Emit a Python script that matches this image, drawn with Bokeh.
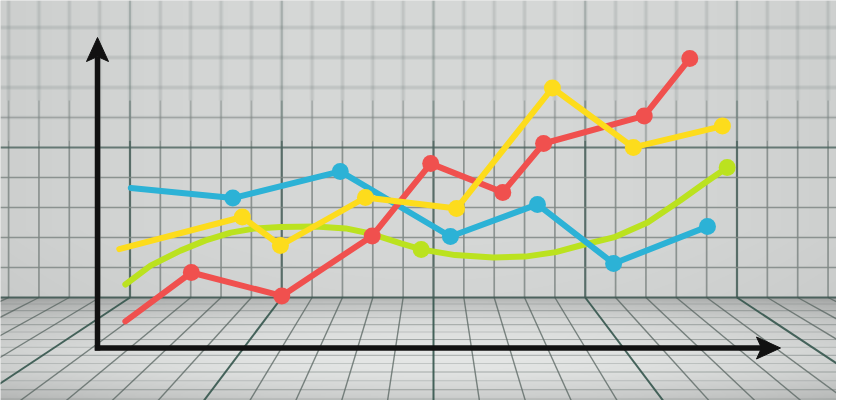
import numpy as np
from bokeh.plotting import figure
from bokeh.models import Range1d
from bokeh.embed import file_html
from bokeh.resources import INLINE

# ---------------- data (chart units: x 0-100 along axis, y 0-100 up the axis)
red_x = [4.1, 13.8, 27.1, 40.4, 49.0, 59.6, 65.6, 80.4, 87.1]
red_y = [8.7, 25.0, 17.2, 37.2, 61.3, 51.7, 68.0, 77.2, 96.3]

yellow_x = [3.2, 21.3, 26.9, 39.4, 52.8, 66.9, 78.8, 91.9]
yellow_y = [32.8, 43.5, 34.0, 50.0, 46.3, 86.5, 66.7, 73.8]

blue_x = [4.9, 19.9, 35.7, 51.9, 64.7, 75.9, 89.7]
blue_y = [53.2, 49.8, 58.7, 37.0, 47.7, 28.0, 40.3]

green_x = [4.1, 7.8, 12.2, 15.9, 19.6, 23.2, 26.9, 32.1, 36.5, 40.1, 44.6, 47.6,
           52.6, 58.2, 62.9, 67.4, 71.0, 75.9, 80.9, 85.7, 89.4, 92.6]
green_y = [21.0, 27.3, 32.3, 35.7, 38.3, 39.7, 40.2, 40.3, 39.7, 38.0, 34.7, 32.7,
           30.8, 30.0, 30.3, 31.8, 34.0, 36.7, 41.7, 49.0, 55.0, 60.0]
green_marker_x = [47.6, 92.6]
green_marker_y = [32.7, 60.0]

# ---------------- layout (scene geometry in screen pixels)
W, H = 836, 400
PX0, PY0 = 0, 0            # scene pixel at the figure's top-left corner
X0, SX = 97.0, 6.8         # axis origin x (px) / px per x unit
Y0, SY = 347.0, 3.0        # axis origin y (px) / px per y unit


def U(X):
    return (np.asarray(X, dtype=float) - X0) / SX


def V(Y):
    return (Y0 - np.asarray(Y, dtype=float)) / SY


p = figure(width=W, height=H,
           x_range=Range1d(float(U(PX0)), float(U(PX0 + W))),
           y_range=Range1d(float(V(PY0 + H)), float(V(PY0))),
           output_backend="svg", toolbar_location=None, min_border=0)
p.axis.visible = False
p.grid.visible = False
p.outline_line_color = None
p.background_fill_color = "#d6d6d6"
p.border_fill_color = "#d6d6d6"

# ---------------- background gradient (wall + floor)
FLOOR = 297.0
Xs = np.arange(PX0, PX0 + W) + 0.5
Ys = np.arange(PY0 + H, PY0, -1) - 0.5
XX, YY = np.meshgrid(Xs, Ys)
side = ((XX - 430.0) / 430.0) ** 2
wall = 216.0 - 9.0 * side - 4.0 * np.clip((YY - 230) / 67.0, 0, 1)
floor = np.interp(YY, [297, 302, 320, 350, 372, 395, 416],
                  [178, 194, 218, 232, 228, 208, 180]) - 22.0 * side
val = np.where(YY < FLOOR, wall, floor)
img = np.zeros((H, W), dtype=np.uint32)
view = img.view(dtype=np.uint8).reshape((H, W, 4))
view[..., 0] = np.clip(val - 2, 0, 255).astype(np.uint8)
view[..., 1] = np.clip(val, 0, 255).astype(np.uint8)
view[..., 2] = np.clip(val - 1, 0, 255).astype(np.uint8)
view[..., 3] = 255
p.image_rgba(image=[img], x=float(U(PX0)), y=float(V(PY0 + H)),
             dw=W / SX, dh=H / SY)

# ---------------- wall grid
CX, CELL = 433.0, 30.35
Z1, Z2 = 100.0, 140.0      # soft -> medium -> crisp (depth of field)
vx = [CX + CELL * m for m in range(-15, 14)]
thick_v = [CX + CELL * m for m in range(-15, 14) if m % 5 == 0]
thin_v = [x for x in vx if x not in thick_v]
hy = [FLOOR - 30.0 * n for n in range(1, 10)]
thick_h = [FLOOR - 150.0]
thin_h = [y for y in hy if y not in thick_h]


def vseg(xs, ya, yb, **kw):
    p.segment(x0=U(xs), y0=V([ya] * len(xs)), x1=U(xs), y1=V([yb] * len(xs)), **kw)


def hseg(ys, **kw):
    p.segment(x0=U([PX0] * len(ys)), y0=V(ys), x1=U([PX0 + W] * len(ys)), y1=V(ys), **kw)


soft_h = [y for y in hy if y < Z1]
mid_h = [y for y in thin_h if Z1 <= y < Z2]
crisp_h = [y for y in thin_h if y >= Z2]

# soft upper part
for w, a in [(5, 0.06), (2.5, 0.10)]:
    vseg(vx, PY0, Z1, line_color="#5d6663", line_width=w, line_alpha=a)
    hseg(soft_h, line_color="#5d6663", line_width=w, line_alpha=a)
vseg(thick_v, PY0, Z1, line_color="#4a625c", line_width=2.0, line_alpha=0.22)
# medium band
vseg(vx, Z1, Z2, line_color="#5d6663", line_width=3.5, line_alpha=0.08)
vseg(thin_v, Z1, Z2, line_color="#7f8785", line_width=1.7, line_alpha=0.5)
vseg(thick_v, Z1, Z2, line_color="#4a625c", line_width=2.1, line_alpha=0.55)
hseg(mid_h, line_color="#5d6663", line_width=3.5, line_alpha=0.08)
hseg(mid_h, line_color="#7f8785", line_width=1.7, line_alpha=0.55)
# crisp lower part
vseg(thin_v, Z2, FLOOR, line_color="#7f8785", line_width=1.7, line_alpha=0.85)
vseg(thick_v, Z2, FLOOR, line_color="#4a625c", line_width=2.2, line_alpha=0.9)
hseg(crisp_h, line_color="#7f8785", line_width=1.7, line_alpha=0.85)
hseg(thick_h, line_color="#4a625c", line_width=2.2, line_alpha=0.8)

# ---------------- floor grid
VP_Y = 96.0
BOT = 416.0
fy = []
y = FLOOR
while True:
    y = y + 6.5 + 0.03 * (y - FLOOR)
    if y > BOT:
        break
    fy.append(y)
hseg(fy, line_color="#6f7977", line_width=1.0,
     line_alpha=[0.55 if i % 2 else 0.3 for i in range(len(fy))])

fac = (BOT - VP_Y) / (FLOOR - VP_Y)
ft_top, ft_bot, fk_top, fk_bot = [], [], [], []
for m in range(-45, 46):
    xt = CX + CELL * m
    xb = CX + (xt - CX) * fac
    if max(xt, xb) < PX0 or min(xt, xb) > PX0 + W:
        continue
    if m % 5 == 0:
        fk_top.append(xt); fk_bot.append(xb)
    else:
        ft_top.append(xt); ft_bot.append(xb)
p.segment(x0=U(ft_top), y0=V([FLOOR] * len(ft_top)), x1=U(ft_bot), y1=V([BOT] * len(ft_bot)),
          line_color="#56635f", line_width=1.4, line_alpha=0.75)
p.segment(x0=U(fk_top), y0=V([FLOOR] * len(fk_top)), x1=U(fk_bot), y1=V([BOT] * len(fk_bot)),
          line_color="#34554c", line_width=2.0, line_alpha=0.9)
hseg([FLOOR], line_color="#3f5852", line_width=2.2, line_alpha=0.9)

# ---------------- axes arrows
AX = "#111111"
p.segment(x0=[float(U(97))], y0=[float(V(350))], x1=[float(U(97))], y1=[float(V(56))],
          line_color=AX, line_width=5.5)
p.patch(x=U([97, 86, 97, 108]), y=V([37, 61, 56, 61]), fill_color=AX, line_color=AX, line_width=1)
p.segment(x0=[float(U(94.3))], y0=[float(V(347.5))], x1=[float(U(762))], y1=[float(V(347.5))],
          line_color=AX, line_width=5.5)
p.patch(x=U([780, 756, 761, 756]), y=V([347.5, 336.5, 347.5, 358.5]), fill_color=AX, line_color=AX, line_width=1)

# ---------------- series
RED, YEL, BLU, GRN = "#f0504e", "#fddc1c", "#2cb2d6", "#bbe21f"
LW, MS = 6, 17

p.line(green_x, green_y, line_color=GRN, line_width=LW, line_cap="round", line_join="round")
p.scatter(green_marker_x, green_marker_y, size=MS, fill_color=GRN, line_color=None)

p.line(blue_x, blue_y, line_color=BLU, line_width=LW, line_cap="round", line_join="round")
p.scatter(blue_x[1:], blue_y[1:], size=MS, fill_color=BLU, line_color=None)

p.line(red_x, red_y, line_color=RED, line_width=LW, line_cap="round", line_join="round")
p.scatter(red_x[1:], red_y[1:], size=MS, fill_color=RED, line_color=None)

p.line(yellow_x, yellow_y, line_color=YEL, line_width=LW, line_cap="round", line_join="round")
p.scatter(yellow_x[1:], yellow_y[1:], size=MS, fill_color=YEL, line_color=None)

open("out.html", "w").write(file_html(p, INLINE))
